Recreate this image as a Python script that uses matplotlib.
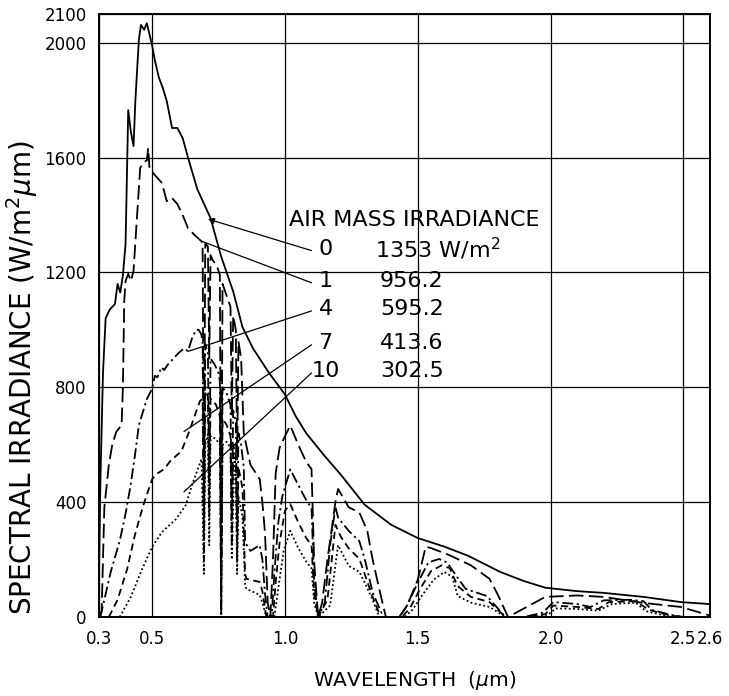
import numpy as np
import matplotlib
matplotlib.use("Agg")
import matplotlib.pyplot as plt


# spectral irradiance (W/m^2 um), (wavelength um, value)
am0_pts = [(0.30, 150), (0.305, 460), (0.315, 850), (0.325, 1040), (0.34, 1070),
           (0.36, 1090), (0.37, 1160), (0.38, 1130), (0.39, 1190), (0.40, 1300),
           (0.41, 1765), (0.42, 1690), (0.43, 1640), (0.437, 1800), (0.45, 2010),
           (0.458, 2062), (0.47, 2045), (0.48, 2068), (0.49, 2030), (0.50, 1990),
           (0.51, 1940), (0.525, 1880), (0.54, 1843), (0.555, 1797), (0.575, 1703),
           (0.595, 1703), (0.615, 1668), (0.635, 1600), (0.67, 1490), (0.72, 1389),
           (0.76, 1255), (0.805, 1134), (0.84, 1010), (0.88, 935), (0.94, 850),
           (1.00, 775), (1.04, 700), (1.08, 640), (1.15, 560), (1.21, 496),
           (1.30, 391), (1.40, 321), (1.50, 275), (1.60, 245), (1.69, 213),
           (1.81, 157), (1.90, 125), (1.98, 102), (2.10, 90), (2.20, 84),
           (2.35, 70), (2.49, 52), (2.60, 45)]

am1_pts = [(0.30, 0), (0.31, 20), (0.32, 380), (0.337, 530), (0.35, 600),
           (0.365, 645), (0.385, 668), (0.39, 800), (0.395, 1100), (0.40, 1170),
           (0.41, 1195), (0.42, 1170), (0.43, 1205), (0.44, 1350), (0.455, 1564),
           (0.47, 1585), (0.48, 1590), (0.485, 1633), (0.49, 1564), (0.50, 1550),
           (0.52, 1529), (0.537, 1511), (0.555, 1448), (0.575, 1459), (0.595, 1438),
           (0.615, 1400), (0.635, 1354), (0.66, 1330), (0.685, 1309), (0.69, 1300),
           (0.695, 420), (0.70, 1300), (0.71, 1290), (0.715, 900), (0.72, 1260),
           (0.73, 1240), (0.745, 1220), (0.755, 1190), (0.76, 150), (0.765, 1160),
           (0.78, 1120), (0.795, 1080), (0.80, 700), (0.805, 1050), (0.815, 1000),
           (0.82, 550), (0.825, 960), (0.835, 900), (0.845, 640), (0.87, 530),
           (0.905, 480), (0.915, 400), (0.925, 290), (0.935, 50), (0.945, 0),
           (0.955, 200), (0.965, 500), (0.98, 590), (0.995, 620), (1.02, 667),
           (1.05, 600), (1.08, 540), (1.10, 515), (1.11, 190), (1.125, 0),
           (1.14, 50), (1.16, 200), (1.19, 400), (1.20, 446), (1.24, 382),
           (1.28, 364), (1.31, 300), (1.33, 200), (1.36, 77), (1.38, 0),
           (1.43, 0), (1.46, 40), (1.50, 130), (1.53, 245), (1.55, 240),
           (1.62, 215), (1.70, 180), (1.77, 133), (1.80, 80), (1.84, 0),
           (1.92, 40), (1.98, 70), (2.10, 75), (2.20, 70), (2.35, 49),
           (2.49, 35), (2.60, 5)]

am4_pts = [(0.305, 0), (0.32, 60), (0.345, 160), (0.378, 265), (0.40, 360),
           (0.418, 453), (0.435, 560), (0.45, 668), (0.48, 759), (0.50, 795),
           (0.51, 840), (0.52, 835), (0.535, 870), (0.545, 860), (0.56, 880),
           (0.58, 900), (0.60, 920), (0.62, 935), (0.635, 926), (0.65, 970),
           (0.665, 1000), (0.675, 1000), (0.685, 985), (0.69, 960), (0.695, 300),
           (0.70, 950), (0.71, 920), (0.715, 480), (0.72, 900), (0.735, 880),
           (0.75, 850), (0.755, 820), (0.76, 30), (0.765, 800), (0.78, 780),
           (0.795, 740), (0.80, 340), (0.805, 720), (0.815, 680), (0.82, 300),
           (0.825, 640), (0.835, 600), (0.845, 520), (0.85, 260), (0.87, 230),
           (0.905, 250), (0.915, 200), (0.925, 80), (0.935, 0), (0.95, 0),
           (0.96, 150), (0.975, 330), (0.99, 420), (1.02, 514), (1.05, 460),
           (1.08, 407), (1.10, 380), (1.11, 120), (1.125, 0), (1.15, 50),
           (1.17, 250), (1.19, 384), (1.20, 346), (1.24, 300), (1.28, 264),
           (1.30, 203), (1.33, 86), (1.37, 0), (1.43, 0), (1.46, 40),
           (1.50, 120), (1.54, 190), (1.58, 202), (1.61, 190), (1.64, 150),
           (1.68, 98), (1.76, 73), (1.83, 0), (1.90, 0), (1.97, 15),
           (2.01, 52), (2.10, 45), (2.15, 35), (2.20, 58), (2.30, 60),
           (2.35, 55), (2.38, 25), (2.45, 8), (2.50, 0)]

am7_pts = [(0.337, 0), (0.37, 60), (0.406, 167), (0.435, 285), (0.467, 390),
           (0.50, 480), (0.52, 500), (0.545, 515), (0.57, 545), (0.61, 577),
           (0.64, 647), (0.66, 700), (0.68, 752), (0.69, 760), (0.695, 200),
           (0.70, 787), (0.71, 770), (0.715, 350), (0.72, 760), (0.74, 740),
           (0.755, 700), (0.76, 10), (0.765, 690), (0.78, 670), (0.795, 630),
           (0.80, 250), (0.805, 600), (0.815, 560), (0.82, 200), (0.825, 520),
           (0.84, 450), (0.85, 150), (0.855, 133), (0.905, 122), (0.915, 90),
           (0.93, 0), (0.955, 0), (0.965, 120), (0.98, 260), (1.00, 370),
           (1.02, 393), (1.05, 330), (1.08, 275), (1.10, 250), (1.11, 80),
           (1.125, 0), (1.16, 60), (1.19, 321), (1.21, 280), (1.24, 239),
           (1.28, 203), (1.30, 150), (1.33, 70), (1.36, 0), (1.44, 0),
           (1.47, 30), (1.51, 100), (1.55, 160), (1.59, 180), (1.62, 170),
           (1.65, 108), (1.70, 70), (1.77, 52), (1.83, 0), (1.92, 0),
           (1.98, 10), (2.01, 40), (2.10, 35), (2.18, 28), (2.22, 52),
           (2.32, 55), (2.37, 25), (2.45, 5), (2.50, 0)]

am10_pts = [(0.378, 0), (0.42, 70), (0.459, 160), (0.50, 244), (0.537, 296),
            (0.59, 341), (0.627, 390), (0.65, 460), (0.686, 550), (0.695, 150),
            (0.70, 600), (0.71, 637), (0.715, 250), (0.72, 630), (0.74, 620),
            (0.755, 600), (0.76, 5), (0.765, 600), (0.78, 610), (0.795, 590),
            (0.80, 200), (0.81, 570), (0.815, 500), (0.82, 150), (0.825, 420),
            (0.84, 350), (0.85, 110), (0.855, 98), (0.905, 77), (0.915, 50),
            (0.93, 0), (0.96, 0), (0.975, 100), (0.995, 230), (1.02, 300),
            (1.05, 240), (1.08, 193), (1.10, 170), (1.11, 50), (1.125, 0),
            (1.17, 40), (1.20, 250), (1.24, 178), (1.28, 157), (1.30, 120),
            (1.33, 60), (1.355, 0), (1.45, 0), (1.48, 25), (1.52, 80),
            (1.56, 130), (1.60, 157), (1.63, 140), (1.65, 73), (1.70, 50),
            (1.77, 35), (1.83, 0), (1.93, 0), (1.99, 8), (2.02, 30),
            (2.10, 28), (2.18, 22), (2.23, 45), (2.32, 50), (2.36, 20),
            (2.44, 3), (2.50, 0)]

air_mass = ['0', '1', '4', '7', '10']
irradiance = ['1353 W/m$^2$', '956.2', '595.2', '413.6', '302.5']

xticks = [0.3, 0.5, 1.0, 1.5, 2.0, 2.5, 2.6]
xticklabels = ['0.3', '0.5', '1.0', '1.5', '2.0', '2.5', '2.6']
yticks = [0, 400, 800, 1200, 1600, 2000, 2100]

series = [am0_pts, am1_pts, am4_pts, am7_pts, am10_pts]
styles = ['-', (0, (8, 3)), (0, (6, 2, 1.2, 2)), (0, (4, 2.5)), (0, (1, 1.4))]

# where the leader lines touch the curves
leader_tip = [(0.71, 1386), (0.685, 1309), (0.635, 925), (0.62, 646), (0.62, 436)]


fig = plt.figure(figsize=(7.29, 6.96), dpi=100)
ax = fig.add_axes([99/729, 1 - 617/696, 611/729, 603/696])

for pts, ls in zip(series, styles):
    wl, irr = zip(*pts)
    ax.plot(wl, irr, color='k', lw=1.3, ls=ls)

ax.set_xlim(0.3, 2.6)
ax.set_ylim(0, 2100)
ax.set_xticks(xticks)
ax.set_xticklabels(xticklabels)
ax.set_yticks(yticks)
ax.tick_params(length=0, labelsize=12, pad=9)
ax.grid(True, color='k', lw=0.9)
for s in ax.spines.values():
    s.set_linewidth(1.4)

# legend block
ax.text(1.015, 1382, 'AIR MASS IRRADIANCE', fontsize=16, ha='left', va='center')
row_y = [1281, 1169, 1071, 953, 855]
for i in range(5):
    ax.text(1.153, row_y[i], air_mass[i], fontsize=16, ha='center', va='center')
    vx = 1.34 if i == 0 else 1.358
    ax.text(vx, row_y[i], irradiance[i], fontsize=16, ha='left', va='center')
    start = (1.10, row_y[i] - 5)
    if i == 0:
        ax.annotate('', xy=leader_tip[i], xytext=start,
                    arrowprops=dict(arrowstyle='-|>', color='k', lw=0.9, mutation_scale=9,
                                    shrinkA=0, shrinkB=0))
    else:
        ax.annotate('', xy=leader_tip[i], xytext=start,
                    arrowprops=dict(arrowstyle='-', color='k', lw=0.9,
                                    shrinkA=0, shrinkB=0))

fig.text(22/729, 1 - 378/696, 'SPECTRAL IRRADIANCE (W/m$^2\\mu$m)', rotation=90,
         fontsize=20, ha='center', va='center')
fig.text(415/729, 1 - 680/696, 'WAVELENGTH  ($\\mu$m)', fontsize=14.5,
         ha='center', va='center')

fig.savefig('out.png', dpi=100)
